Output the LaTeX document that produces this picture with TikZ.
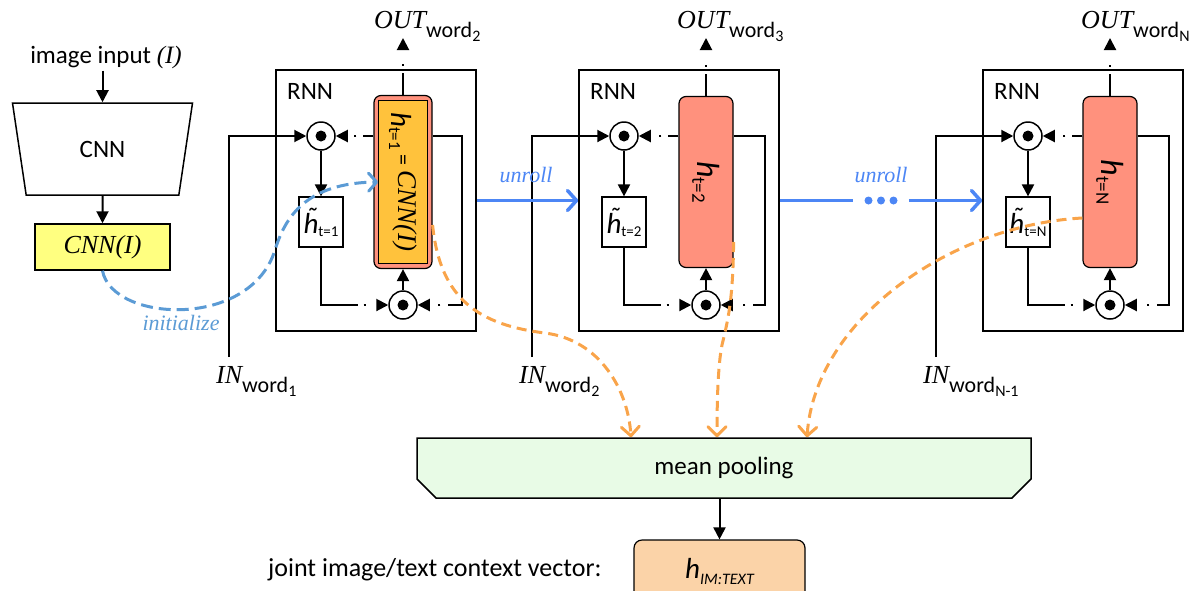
\documentclass[tikz,border=0pt]{standalone}
\usepackage{fontspec}
\setmainfont{Liberation Serif}
\setsansfont{Carlito}
\usetikzlibrary{arrows.meta,shapes.geometric,shapes.misc,calc}
\newcommand\fsz[1]{\fontsize{#1}{#1}\selectfont}
\newcommand\wlab[2]{{\rmfamily\fsz{26}\itshape #1}\raisebox{-9pt}{\sffamily\fsz{22}word\raisebox{-4pt}{\fsz{16}#2}}}
\newcommand\tildeh{\accent"02DC h}
\newcommand\htlab[1]{\sffamily{\fsz{29}\itshape\tildeh}\raisebox{-3pt}{\fsz{15}t=#1}}
\definecolor{cyel}{HTML}{FFFF80}
\definecolor{csal}{HTML}{FF917D}
\definecolor{corg}{HTML}{FFC23C}
\definecolor{cgrn}{HTML}{E8FBE6}
\definecolor{cpch}{HTML}{FBD3A8}
\definecolor{cblu}{HTML}{4C86F5}
\definecolor{cini}{HTML}{5B9BD5}
\definecolor{cora}{HTML}{F9A44A}
\tikzset{
  sans/.style={font=\sffamily\fsz{25}},
  line/.style={line width=2pt, draw=black},
  tip/.style={-{Triangle[length=12pt,width=12pt]}},
  rnnbox/.style={draw, line width=1.5pt, minimum width=200pt, minimum height=261pt, inner sep=0pt},
  odot/.style={circle, draw, line width=1.5pt, fill=white, minimum size=28pt, inner sep=0pt,
    path picture={\fill[black] (path picture bounding box.center) circle (5.5pt);}},
  hbox/.style={draw, line width=1.2pt, fill=csal, rounded corners=7pt, minimum width=54pt, minimum height=171pt, inner sep=0pt},
  htbox/.style={draw, line width=1.2pt, fill=white, minimum width=44pt, minimum height=50pt, inner sep=0pt},
  ddA/.style={dash pattern=on 22pt off 7pt on 2pt off 60pt},
  ddB/.style={dash pattern=on 10pt off 7pt on 2pt off 60pt},
  ddC/.style={dash pattern=on 94pt off 6pt on 2pt off 60pt},
  ddD/.style={dash pattern=on 212pt off 8pt on 2pt off 60pt},
  unroll/.style={draw=cblu, line width=3.5pt, -{Straight Barb[length=9pt,width=20pt,round]}},
  ulab/.style={text=cblu, font=\rmfamily\itshape\fsz{22}},
  initc/.style={draw=cini, line width=3pt, dash pattern=on 12pt off 6pt, -{Straight Barb[length=8pt,width=18pt,round]}},
  orac/.style={draw=cora, line width=3pt, dash pattern=on 10pt off 6pt, -{Straight Barb[length=9pt,width=18pt,round]}},
}
% #1 name, #2 x0, #3 h style, #4 hook, #5 h text, #6 ht sub, #7 OUT sub, #8 IN sub
\newcommand\rnnunit[8]{%
\begin{scope}[shift={(#2,0)}]
  \node[rnnbox] (#1-box) at (100,200.5) {};
  \node[sans, anchor=base west, inner sep=0pt] (#1-lbl) at (11,99) {RNN};
  \node[odot] (#1-c1) at (45,136) {};
  \node[odot] (#1-c2) at (127,305) {};
  \node[hbox,#3] (#1-h) at (127,182) {};
  #4
  \node[rotate=-90, inner sep=0pt] (#1-hl) at (#1-h) {#5};
  \node[htbox] (#1-ht) at (45,222) {\htlab{#6}};
  \coordinate (#1-oe) at (127,38);
  \coordinate (#1-in) at (-47,357);
  \coordinate (#1-lp) at (186,305);
  \node[anchor=base west, inner sep=0pt] (#1-out) at (98,28) {\wlab{OUT}{#7}};
  \node[anchor=base west, inner sep=0pt] (#1-inl) at (-60,383) {\wlab{IN}{#8}};
  \draw[line,tip,ddA] (#1-h.north) -- (#1-oe);
  \draw[line,tip] (#1-in) |- (#1-c1);
  \draw[line,tip,ddB] (#1-h.west |- #1-c1) -- (#1-c1);
  \draw[line,tip] (#1-c1) -- (#1-ht);
  \draw[line,tip,ddC] (#1-ht) |- (#1-c2);
  \draw[line,tip,ddD] (#1-h.east |- #1-c1) -| (#1-lp) -- (#1-c2);
  \draw[line,tip] (#1-c2) -- (#1-h);
\end{scope}}
\begin{document}
\begin{tikzpicture}[x=1pt,y=-1pt]
\useasboundingbox (0,0) rectangle (1196,590);
% CNN column
\node[sans, anchor=base, inner sep=2pt] (imgin) at (106,63) {image input {\rmfamily\itshape (I)}};
\node[draw, line width=1.5pt, trapezium, trapezium angle=76, shape border rotate=180,
  trapezium stretches=true, minimum width=181pt, minimum height=92pt, inner sep=0pt, sans] (cnn) at (102.5,149) {CNN};
\node[draw, line width=1.5pt, fill=cyel, minimum width=135pt, minimum height=46pt, inner sep=0pt,
  font=\rmfamily\itshape\fsz{26}] (cnni) at (102.5,247) {CNN(I)};
\draw[line,tip] (imgin.south -| cnn.north) -- (cnn.north);
\draw[line,tip] (cnn) -- (cnni);
% RNN units
\rnnunit{a}{276}{minimum width=58pt, minimum height=173pt}
  {\node[draw, line width=0.8pt, fill=corg, minimum width=49pt, minimum height=163pt, inner sep=0pt] (a-hin) at (a-h) {};}
  {\sffamily{\fsz{29}\itshape h}\raisebox{-2pt}{\fsz{17}t=1}\raisebox{5pt}{\fsz{22}\ =\ }\raisebox{7pt}{\rmfamily\itshape\fsz{27}CNN(I)}}
  {1}{2}{1}
\rnnunit{b}{579}{}{}
  {\sffamily{\fsz{32}\itshape h}\raisebox{-5pt}{\fsz{19}t=2}}
  {2}{3}{2}
\rnnunit{c}{983}{}{}
  {\sffamily{\fsz{32}\itshape h}\raisebox{-5pt}{\fsz{19}t=N}}
  {N}{N}{N-1}
% unroll arrows
\draw[unroll] (a-box.east) -- (b-box.west);
\node[ulab, anchor=base] (u1) at (526,182) {unroll};
\draw[unroll, dash pattern=on 73pt off 56pt on 300pt] (b-box.east) -- coordinate[pos=0.5] (dots) (c-box.west);
\fill[cblu] ([xshift=-12.5pt]dots) circle (4pt) (dots) circle (4pt) ([xshift=12.5pt]dots) circle (4pt);
\node[ulab, anchor=base] (u2) at (881,182) {unroll};
% pooling
\node[draw, line width=1.5pt, fill=cgrn, chamfered rectangle, chamfered rectangle corners={south west,south east},
  chamfered rectangle xsep=9pt, chamfered rectangle ysep=10pt, minimum width=614pt, minimum height=60pt,
  inner sep=0pt, sans] (pool) at (724,468) {mean pooling};
\node[draw, line width=1.2pt, fill=cpch, rounded corners=8pt, minimum width=171pt, minimum height=62pt, inner sep=0pt]
  (him) at (719.5,571) {\sffamily{\fsz{29}\itshape h}\raisebox{-6pt}{\fsz{16}\itshape IM:TEXT}};
\draw[line,tip] (pool.south -| him.north) -- (him.north);
\node[sans, anchor=base west, inner sep=0pt, font=\sffamily\fsz{26}] (jt) at (268,576) {joint image/text context vector:};
% initialize curve
\draw[initc] (cnni.south) .. controls (112,322) and (250,330) .. (275,250)
  .. controls (285,218) and (305,183) .. (a-hin.west |- 0,182);
\node[text=cini, font=\rmfamily\itshape\fsz{22}, anchor=base] (init) at (181,330) {initialize};
% orange curves
\draw[orac] ([yshift=-43pt]a-h.east) .. controls (440,300) and (480,325) .. (545,333)
  .. controls (600,340) and (628,390) .. ([xshift=-93pt]pool.north);
\draw[orac] ([yshift=-60pt]b-h.east) .. controls (733,300) and (728,320) .. (722,345)
  .. controls (718,365) and (717,400) .. ([xshift=-7pt]pool.north);
\draw[orac] ([yshift=-36pt]c-h.west) .. controls (950,225) and (815,320) .. ([xshift=83pt]pool.north);
\end{tikzpicture}
\end{document}
